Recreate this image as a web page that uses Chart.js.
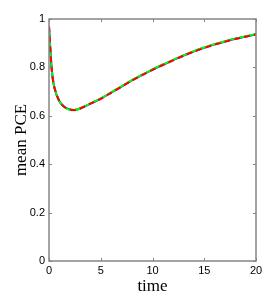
<!DOCTYPE html>
<html>
<head>
<meta charset="utf-8">
<script src="https://cdn.jsdelivr.net/npm/chart.js@4/dist/chart.umd.min.js"></script>
<style>
  html, body { margin: 0; padding: 0; background: #fff; }
  #wrap { width: 274px; height: 300px; }
</style>
</head>
<body>
<div id="wrap"><canvas id="myChart" width="274" height="300"></canvas></div>
<script>
// time points and the three (almost identical) mean PCE curves
const TIME = [0, 0.25, 0.5, 1, 1.5, 2, 2.5, 3, 4, 5, 6, 7, 8, 9, 10, 11, 12, 13, 14, 15, 16, 17, 18, 19, 20];
const PCE_BLUE  = [0.97, 0.80, 0.72, 0.66, 0.636, 0.626, 0.624, 0.630, 0.650, 0.671, 0.696, 0.721, 0.746, 0.769, 0.791, 0.811, 0.830, 0.849, 0.866, 0.881, 0.895, 0.907, 0.918, 0.928, 0.937];
const PCE_GREEN = [0.97, 0.80, 0.72, 0.66, 0.635, 0.625, 0.623, 0.630, 0.651, 0.672, 0.697, 0.722, 0.747, 0.770, 0.792, 0.812, 0.831, 0.850, 0.867, 0.882, 0.896, 0.908, 0.919, 0.929, 0.938];
const PCE_RED   = [0.97, 0.80, 0.72, 0.66, 0.636, 0.626, 0.624, 0.630, 0.650, 0.670, 0.695, 0.720, 0.745, 0.768, 0.790, 0.810, 0.829, 0.848, 0.865, 0.880, 0.894, 0.906, 0.917, 0.927, 0.936];
const X_TICKS = [0, 5, 10, 15, 20];
const Y_TICKS = [0, 0.2, 0.4, 0.6, 0.8, 1];

const AXIS_COLOR = '#858585';
const tickFont = { family: 'Liberation Sans', size: 11 };
const titleFont = { family: 'Liberation Serif', size: 17 };

function toXY(vals) {
    return TIME.map((t, i) => ({ x: t, y: vals[i] }));
}

// box around the plot + inward ticks on all four sides
const boxPlugin = {
    id: 'box',
    afterDatasetsDraw(chart) {
        const { ctx, chartArea: a, scales } = chart;
        ctx.save();
        ctx.strokeStyle = AXIS_COLOR;
        ctx.lineWidth = 1.5;
        ctx.strokeRect(a.left, a.top, a.right - a.left, a.bottom - a.top);
        ctx.lineWidth = 1;
        ctx.beginPath();
        X_TICKS.forEach(v => {
            const px = Math.round(scales.x.getPixelForValue(v)) + 0.5;
            ctx.moveTo(px, a.bottom); ctx.lineTo(px, a.bottom - 3);
            ctx.moveTo(px, a.top); ctx.lineTo(px, a.top + 3);
        });
        Y_TICKS.forEach(v => {
            const py = Math.round(scales.y.getPixelForValue(v)) + 0.5;
            ctx.moveTo(a.left, py); ctx.lineTo(a.left + 3, py);
            ctx.moveTo(a.right, py); ctx.lineTo(a.right - 3, py);
        });
        ctx.stroke();
        ctx.restore();
    }
};

// first dataset is painted last (on top): red dashes over green over blue
new Chart(document.getElementById('myChart').getContext('2d'), {
    type: 'line',
    data: {
        datasets: [
            { data: toXY(PCE_RED), borderColor: '#ff0000', borderWidth: 2, borderDash: [6, 4], pointRadius: 0, tension: 0.3, fill: false },
            { data: toXY(PCE_GREEN), borderColor: '#00ff00', borderWidth: 2, pointRadius: 0, tension: 0.3, fill: false },
            { data: toXY(PCE_BLUE), borderColor: '#0000ff', borderWidth: 2, pointRadius: 0, tension: 0.3, fill: false }
        ]
    },
    options: {
        responsive: false,
        animation: false,
        layout: { padding: { left: 0, right: 18, top: 19, bottom: 0 } },
        plugins: { legend: { display: false }, tooltip: { enabled: false } },
        scales: {
            x: {
                type: 'linear', min: 0, max: 20,
                afterBuildTicks: s => { s.ticks = X_TICKS.map(v => ({ value: v })); },
                afterFit: s => { s.height = 39; },
                grid: { display: false, drawTicks: false },
                border: { display: false },
                ticks: { font: tickFont, color: '#000', padding: 3, maxRotation: 0 },
                title: { display: true, text: 'time', font: titleFont, color: '#000', padding: { top: 0, bottom: 3 } }
            },
            y: {
                type: 'linear', min: 0, max: 1,
                afterBuildTicks: s => { s.ticks = Y_TICKS.map(v => ({ value: v })); },
                afterFit: s => { s.width = 49; },
                grid: { display: false, drawTicks: false },
                border: { display: false },
                ticks: { font: tickFont, color: '#000', padding: 4, callback: v => String(v) },
                title: { display: true, text: 'mean PCE', font: titleFont, color: '#000', padding: { top: 11, bottom: 0 } }
            }
        }
    },
    plugins: [boxPlugin]
});
</script>
</body>
</html>
